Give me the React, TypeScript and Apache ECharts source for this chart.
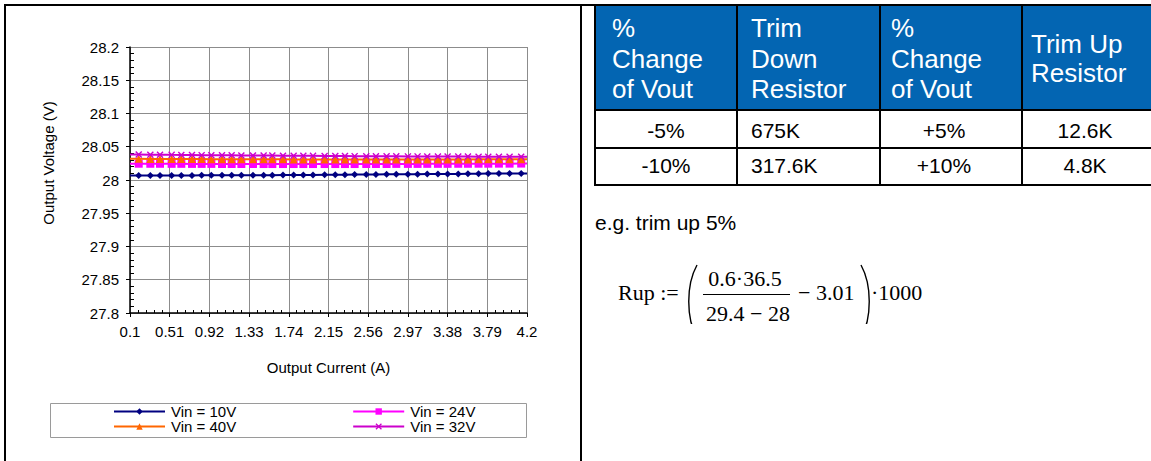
import React, { useEffect, useRef } from "react";
import * as echarts from "echarts";

// ---------- data ----------
const xTickLabels = ["0.1", "0.51", "0.92", "1.33", "1.74", "2.15", "2.56", "2.97", "3.38", "3.79", "4.2"];
const xMinorPerMajor = 5;
const yMin = 27.8;
const yMax = 28.2;
const yStep = 0.05;
const yMinorPerMajor = 5;

const seriesNames = ["Vin = 10V", "Vin = 24V", "Vin = 40V", "Vin = 32V"];

const currents = [
  0.19, 0.31, 0.41, 0.53, 0.63, 0.74, 0.84, 0.94, 1.05, 1.15, 1.25, 1.37, 1.48,
  1.57, 1.68, 1.79, 1.89, 1.99, 2.11, 2.22, 2.32, 2.42, 2.54, 2.64, 2.75, 2.85,
  2.97, 3.07, 3.17, 3.28, 3.38, 3.49, 3.59, 3.7, 3.8, 3.91, 4.02, 4.14,
];

const vin10 = [
  28.0068, 28.0068, 28.0068, 28.0069, 28.0069, 28.0069, 28.007, 28.007, 28.007,
  28.007, 28.0071, 28.0072, 28.0072, 28.0073, 28.0074, 28.0075, 28.0076, 28.0077,
  28.0078, 28.0079, 28.008, 28.0081, 28.0082, 28.0083, 28.0085, 28.0086, 28.0087,
  28.0088, 28.0089, 28.009, 28.0091, 28.0092, 28.0094, 28.0095, 28.0096, 28.0097,
  28.0098, 28.0099,
];
const vin24 = [
  28.0245, 28.0244, 28.0244, 28.0243, 28.0243, 28.0242, 28.0242, 28.0242, 28.0241,
  28.0241, 28.0241, 28.0241, 28.024, 28.024, 28.024, 28.024, 28.024, 28.024, 28.024,
  28.024, 28.024, 28.024, 28.0241, 28.0241, 28.0241, 28.0242, 28.0242, 28.0242,
  28.0243, 28.0243, 28.0243, 28.0244, 28.0244, 28.0245, 28.0245, 28.0246, 28.0246,
  28.0247,
];
const vin40 = [
  28.0318, 28.0317, 28.0316, 28.0315, 28.0315, 28.0314, 28.0314, 28.0313, 28.0313,
  28.0312, 28.0312, 28.0312, 28.0311, 28.0311, 28.0311, 28.031, 28.031, 28.031,
  28.031, 28.031, 28.031, 28.031, 28.031, 28.031, 28.0309, 28.0309, 28.0309, 28.0309,
  28.0309, 28.031, 28.031, 28.031, 28.031, 28.0311, 28.0311, 28.0311, 28.0312, 28.0312,
];
const vin32 = [
  28.0382, 28.0381, 28.0381, 28.0378, 28.0376, 28.0375, 28.0374, 28.0373, 28.0372,
  28.0371, 28.037, 28.0369, 28.0368, 28.0367, 28.0366, 28.0365, 28.0364, 28.0363,
  28.0362, 28.0361, 28.036, 28.0359, 28.0358, 28.0358, 28.0357, 28.0356, 28.0355,
  28.0355, 28.0354, 28.0353, 28.0353, 28.0352, 28.0352, 28.0351, 28.0351, 28.035,
  28.035, 28.035,
];

// table
const tableHeader = [
  ["%", "Change", "of Vout"],
  ["Trim", "Down", "Resistor"],
  ["%", "Change", "of Vout"],
  ["Trim Up", "Resistor"],
];
const tableRows = [
  ["-5%", "675K", "+5%", "12.6K"],
  ["-10%", "317.6K", "+10%", "4.8K"],
];
const exampleText = "e.g. trim up 5%";

// ---------- styling ----------
const SANS = "'Liberation Sans', Arial, Helvetica, sans-serif";
const SERIF = "'Liberation Serif', 'Times New Roman', serif";
const colors = ["#000080", "#FF00FF", "#FF6600", "#CC00CC"];
const symbols = [
  "diamond",
  "rect",
  "triangle",
  "path://M0,1.4L1.4,0L5,3.6L8.6,0L10,1.4L6.4,5L10,8.6L8.6,10L5,6.4L1.4,10L0,8.6L3.6,5Z",
];
const symbolSizes = [7, 8, 8, 7];

const GRID = { left: 130, right: 624, top: 47, bottom: 148 };

export default function App() {
  const ref = useRef<HTMLDivElement>(null);

  useEffect(() => {
    if (!ref.current) return;
    const chart = echarts.init(ref.current, undefined, { renderer: "svg" });

    const xTickValues = xTickLabels.map(Number);
    const xMin = xTickValues[0];
    const xMax = xTickValues[xTickValues.length - 1];
    const xMinor: number[] = [];
    for (let i = 0; i < xTickValues.length - 1; i++) {
      const step = (xTickValues[i + 1] - xTickValues[i]) / xMinorPerMajor;
      for (let j = 1; j < xMinorPerMajor; j++) xMinor.push(+(xTickValues[i] + j * step).toFixed(4));
    }
    const yMinor: number[] = [];
    const nMajor = Math.round((yMax - yMin) / yStep);
    for (let i = 0; i < nMajor; i++) {
      for (let j = 1; j < yMinorPerMajor; j++)
        yMinor.push(+(yMin + i * yStep + (j * yStep) / yMinorPerMajor).toFixed(4));
    }

    const allVals = [vin10, vin24, vin40, vin32];
    const series = allVals.map((vals, si) => ({
      name: seriesNames[si],
      type: "line",
      xAxisIndex: 0,
      yAxisIndex: 0,
      symbol: symbols[si],
      symbolSize: symbolSizes[si],
      showAllSymbol: true,
      color: colors[si],
      lineStyle: { color: colors[si], width: 2 },
      itemStyle: { color: colors[si] },
      data: [
        { value: [xMin, vals[0]], symbol: "none" },
        ...currents.map((c, i) => [c, vals[i]]),
        { value: [xMax, vals[vals.length - 1]], symbol: "none" },
      ],
      z: 2 + si,
    }));

    const txt = (text: string, x: number, y: number, opts: any = {}) => ({
      type: "text",
      x,
      y,
      silent: true,
      z: 10,
      style: {
        text,
        fontSize: opts.fontSize ?? 21,
        fontFamily: opts.fontFamily ?? SANS,
        fill: opts.fill ?? "#000",
        align: opts.align ?? "left",
        verticalAlign: "middle",
      },
      ...(opts.rotation ? { rotation: opts.rotation } : {}),
    });
    const line = (x1: number, y1: number, x2: number, y2: number, w = 2, c = "#000") => ({
      type: "line",
      silent: true,
      z: 12,
      shape: { x1, y1, x2, y2 },
      style: { stroke: c, lineWidth: w },
    });

    // table geometry
    const colX = [595, 737, 880, 1022, 1152];
    const rowY = [5, 110, 148, 185];
    const headerBaselines3 = [36.7, 68.3, 98.3];
    const headerBaselines2 = [53.3, 82.3];
    const headFont = 26;
    const bodyFont = 21;
    const midOff = (fs: number) => fs * 0.35;

    const graphics: any[] = [];
    // outer frame
    graphics.push(line(5, 5, 1152, 5, 2));
    graphics.push(line(5, 4, 5, 462, 2));
    graphics.push(line(581, 5, 581, 462, 2));
    // legend box
    graphics.push({
      type: "rect",
      silent: true,
      z: 1,
      shape: { x: 50.5, y: 403.5, width: 476, height: 34 },
      style: { fill: "none", stroke: "#9a9a9a", lineWidth: 1 },
    });
    // y axis title
    graphics.push(txt("Output Voltage (V)", 48, 163, { fontSize: 15, align: "center", rotation: Math.PI / 2 }));

    // table header background
    graphics.push({
      type: "rect",
      silent: true,
      z: 9,
      shape: { x: colX[0], y: rowY[0], width: colX[4] - colX[0], height: rowY[1] - rowY[0] },
      style: { fill: "#0365B2" },
    });
    const headerX = [612, 751, 891, 1031];
    tableHeader.forEach((lines, ci) => {
      const bases = lines.length === 3 ? headerBaselines3 : headerBaselines2;
      lines.forEach((s, li) => {
        graphics.push(txt(s, headerX[ci], bases[li] - midOff(headFont), { fontSize: headFont, fill: "#fff" }));
      });
    });
    const bodyBaselines = [138, 173];
    const bodyX = [666, 751, 944, 1085];
    const bodyAlign = ["center", "left", "center", "center"];
    tableRows.forEach((row, ri) => {
      row.forEach((s, ci) => {
        graphics.push(
          txt(s, bodyX[ci], bodyBaselines[ri] - midOff(bodyFont), { fontSize: bodyFont, align: bodyAlign[ci] })
        );
      });
    });
    // table lines
    rowY.forEach((y) => graphics.push(line(colX[0] - 1, y, 1152, y, 2)));
    colX.slice(0, 4).forEach((x) => graphics.push(line(x, rowY[0], x, rowY[3] + 1, 2)));

    // example text
    graphics.push(txt(exampleText, 595, 230 - midOff(21), { fontSize: 21 }));

    // formula
    const fF = 22;
    const fo = midOff(fF);
    graphics.push(txt("Rup :=", 618, 300 - fo, { fontSize: fF, fontFamily: SERIF }));
    graphics.push(txt("0.6\u00B736.5", 745, 286 - fo, { fontSize: fF, fontFamily: SERIF, align: "center" }));
    graphics.push(line(703, 294.5, 790, 294.5, 1.2));
    graphics.push(txt("29.4 \u2212 28", 748, 321.5 - fo, { fontSize: fF, fontFamily: SERIF, align: "center" }));
    graphics.push(txt("\u2212 3.01", 798, 300 - fo, { fontSize: fF, fontFamily: SERIF }));
    graphics.push(txt("\u00B71000", 871, 300 - fo, { fontSize: fF, fontFamily: SERIF }));
    graphics.push({
      type: "bezierCurve",
      silent: true,
      z: 11,
      shape: { x1: 697, y1: 265, cpx1: 686, cpy1: 285, cpx2: 686, cpy2: 318, x2: 697, y2: 338 },
      style: { stroke: "#000", lineWidth: 1.4, fill: "none" },
    });
    graphics.push({
      type: "bezierCurve",
      silent: true,
      z: 11,
      shape: { x1: 861, y1: 265, cpx1: 872, cpy1: 285, cpx2: 872, cpy2: 318, x2: 861, y2: 338 },
      style: { stroke: "#000", lineWidth: 1.4, fill: "none" },
    });
    graphics.push({
      type: "rect",
      silent: true,
      z: 20,
      shape: { x: 600, y: 324, width: 330, height: 20 },
      style: { fill: "#fff" },
    });

    const tickLabelFmt = (v: number) => {
      const i = xTickValues.findIndex((t) => Math.abs(t - v) < 1e-6);
      return i >= 0 ? xTickLabels[i] : "";
    };

    const axisFont = { fontSize: 15, fontFamily: SANS, color: "#000" };

    chart.setOption({
      animation: false,
      backgroundColor: "#fff",
      grid: { ...GRID },
      xAxis: [
        {
          type: "value",
          min: xMin,
          max: xMax,
          axisLine: { show: true, onZero: false, lineStyle: { color: "#000", width: 1.5 } },
          axisTick: { show: true, customValues: xTickValues, length: 4, lineStyle: { color: "#000" } },
          axisLabel: { customValues: xTickValues, formatter: tickLabelFmt, margin: 11, ...axisFont },
          splitLine: { show: true, lineStyle: { color: "#8c8c8c", width: 1 } },
          name: "Output Current (A)",
          nameLocation: "middle",
          nameGap: 47,
          nameTextStyle: { ...axisFont },
        },
        {
          type: "value",
          min: xMin,
          max: xMax,
          position: "bottom",
          axisLine: { show: false },
          axisTick: { show: true, inside: true, customValues: xMinor, length: 3, lineStyle: { color: "#000" } },
          axisLabel: { show: false },
          splitLine: { show: false },
        },
      ],
      yAxis: [
        {
          type: "value",
          min: yMin,
          max: yMax,
          interval: yStep,
          axisLine: { show: true, onZero: false, lineStyle: { color: "#000", width: 1.5 } },
          axisTick: { show: true, length: 4, lineStyle: { color: "#000" } },
          axisLabel: {
            formatter: (v: number) => String(parseFloat(v.toFixed(2))),
            margin: 11,
            ...axisFont,
          },
          splitLine: { show: true, lineStyle: { color: "#8c8c8c", width: 1 } },
        },
        {
          type: "value",
          min: yMin,
          max: yMax,
          position: "left",
          offset: 0,
          axisLine: { show: false },
          axisTick: { show: true, inside: true, customValues: yMinor, length: 4, lineStyle: { color: "#000" } },
          axisLabel: { show: false },
          splitLine: { show: false },
        },
      ],
      legend: [
        {
          data: [seriesNames[0], seriesNames[1]],
          left: 113,
          top: 404,
          orient: "horizontal",
          itemWidth: 51,
          itemHeight: 8,
          itemGap: 116,
          padding: 0,
          selectedMode: false,
          textStyle: { fontSize: 15, fontFamily: SANS, color: "#000", lineHeight: 15, padding: [0, 0, 0, 1] },
        },
        {
          data: [seriesNames[2], seriesNames[3]],
          left: 113,
          top: 419,
          orient: "horizontal",
          itemWidth: 51,
          itemHeight: 8,
          itemGap: 116,
          padding: 0,
          selectedMode: false,
          textStyle: { fontSize: 15, fontFamily: SANS, color: "#000", lineHeight: 15, padding: [0, 0, 0, 1] },
        },
      ],
      series,
      graphic: { elements: graphics },
    });

    return () => chart.dispose();
  }, []);

  return (
    <div
      ref={ref}
      style={{ position: "fixed", left: 0, top: 0, width: 1151, height: 461, background: "#fff" }}
    />
  );
}
